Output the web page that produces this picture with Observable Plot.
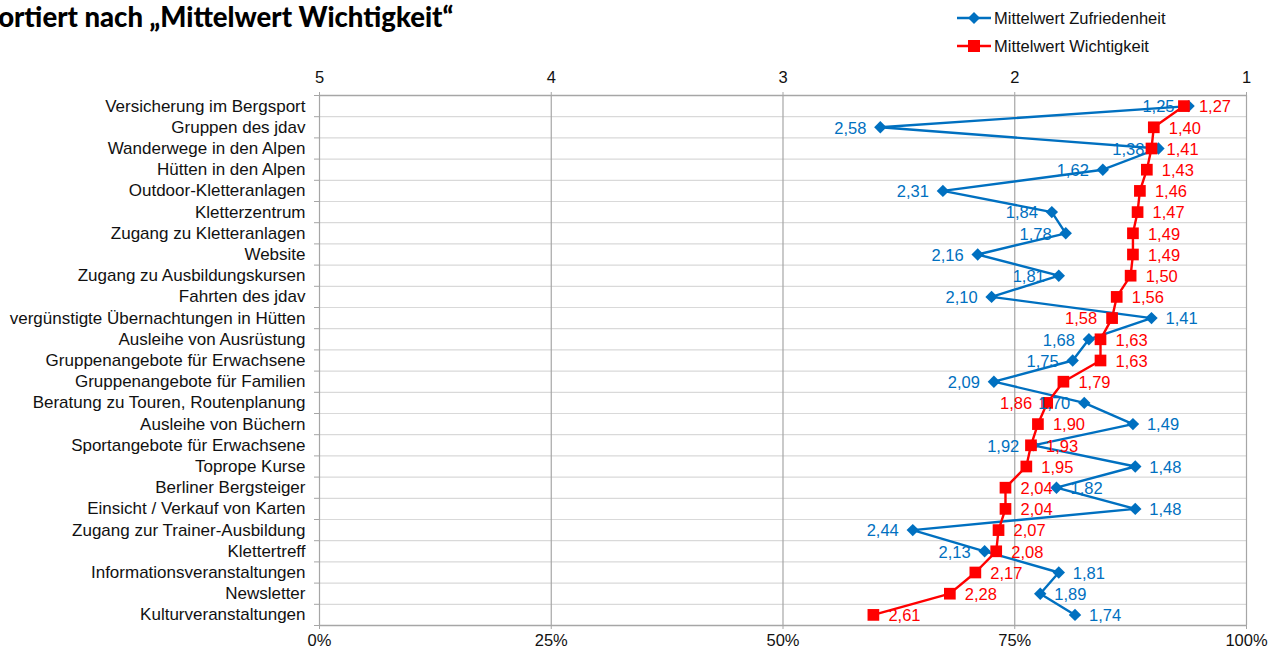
<!DOCTYPE html>
<html>
<head>
<meta charset="utf-8">
<script src="https://cdn.jsdelivr.net/npm/d3@7"></script>
<script src="https://cdn.jsdelivr.net/npm/@observablehq/plot@0.6"></script>
<style>
  html, body { margin: 0; padding: 0; background: #fff; overflow: hidden; }
  body { width: 1278px; height: 653px; position: relative; font-family: "Liberation Sans", Arial, sans-serif; }
  #chart { position: absolute; left: 0; top: 0; }
  #title { position: absolute; left: -17px; top: 0px; font-family: Lato, "Open Sans", sans-serif; font-weight: 900; font-size: 27.5px; color: #000; white-space: nowrap; }
  #legend { position: absolute; left: 956px; top: 4px; font-size: 16.5px; color: #111; }
  #legend .row { height: 28px; display: flex; align-items: center; }
  #legend svg { margin-right: 2px; }
</style>
</head>
<body>
<div id="chart"></div>
<div id="title">Sortiert nach „Mittelwert Wichtigkeit“</div>
<div id="legend"></div>
<script>
const categories = [
  "Versicherung im Bergsport",
  "Gruppen des jdav",
  "Wanderwege in den Alpen",
  "Hütten in den Alpen",
  "Outdoor-Kletteranlagen",
  "Kletterzentrum",
  "Zugang zu Kletteranlagen",
  "Website",
  "Zugang zu Ausbildungskursen",
  "Fahrten des jdav",
  "vergünstigte Übernachtungen in Hütten",
  "Ausleihe von Ausrüstung",
  "Gruppenangebote für Erwachsene",
  "Gruppenangebote für Familien",
  "Beratung zu Touren, Routenplanung",
  "Ausleihe von Büchern",
  "Sportangebote für Erwachsene",
  "Toprope Kurse",
  "Berliner Bergsteiger",
  "Einsicht / Verkauf von Karten",
  "Zugang zur Trainer-Ausbildung",
  "Klettertreff",
  "Informationsveranstaltungen",
  "Newsletter",
  "Kulturveranstaltungen"
];
const zufriedenheit = [1.25, 2.58, 1.38, 1.62, 2.31, 1.84, 1.78, 2.16, 1.81, 2.10, 1.41, 1.68, 1.75, 2.09, 1.70, 1.49, 1.92, 1.48, 1.82, 1.48, 2.44, 2.13, 1.81, 1.89, 1.74];
const wichtigkeit   = [1.27, 1.40, 1.41, 1.43, 1.46, 1.47, 1.49, 1.49, 1.50, 1.56, 1.58, 1.63, 1.63, 1.79, 1.86, 1.90, 1.93, 1.95, 2.04, 2.04, 2.07, 2.08, 2.17, 2.28, 2.61];
// label side per point (as placed in the original chart): l = left, r = right
const zufLabelSide  = ["l","l","l","l","l","l","l","l","l","l","r","l","l","l","l","r","l","r","r","r","l","l","r","r","r"];
const wichLabelSide = ["r","r","r","r","r","r","r","r","r","r","l","r","r","r","l","r","r","r","r","r","r","r","r","r","r"];
const seriesNames = ["Mittelwert Zufriedenheit", "Mittelwert Wichtigkeit"];
const topTicks = [5, 4, 3, 2, 1];
const bottomTickLabels = ["0%", "25%", "50%", "75%", "100%"];

const BLUE = "#0070C0", RED = "#FF0000";
const n = categories.length;
const fmt = v => v.toFixed(2).replace(".", ",");
const zRows = categories.map((c, i) => ({i, v: zufriedenheit[i], side: zufLabelSide[i]}));
const wRows = categories.map((c, i) => ({i, v: wichtigkeit[i], side: wichLabelSide[i]}));
const boundaries = d3.range(n + 1).map(k => k - 0.5);
const innerBounds = boundaries.slice(1, -1);
const outerBounds = [boundaries[0], boundaries[n]];

const chart = Plot.plot({
  width: 1278,
  height: 653,
  marginLeft: 319,
  marginRight: 32,
  marginTop: 95,
  marginBottom: 28,
  style: {fontFamily: "'Liberation Sans', Arial, sans-serif", fontSize: "16.5px", background: "#fff"},
  x: {domain: [5, 1], label: null},
  y: {domain: [n - 0.5, -0.5], label: null},
  marks: [
    Plot.ruleY(innerBounds, {stroke: "#d9d9d9", strokeWidth: 1.2}),
    Plot.ruleX(topTicks, {stroke: "#a6a6a6", strokeWidth: 1.2}),
    Plot.ruleY(outerBounds, {stroke: "#a6a6a6", strokeWidth: 1.4}),
    Plot.axisY({ticks: boundaries, tickFormat: () => "", tickSize: 5, stroke: "#a6a6a6", label: null}),
    Plot.axisY({ticks: d3.range(n), tickFormat: i => categories[i], tickSize: 0, tickPadding: 14, fontSize: 17, fill: "#111", label: null}),
    Plot.axisX({anchor: "top", ticks: topTicks, tickFormat: d => String(d), tickSize: 4, tickPadding: 9, fontSize: 16.5, stroke: "#a6a6a6", fill: "#111", label: null}),
    Plot.axisX({anchor: "bottom", ticks: topTicks, tickFormat: d => bottomTickLabels[topTicks.indexOf(d)], tickSize: 4, tickPadding: 5, fontSize: 16.5, stroke: "#a6a6a6", fill: "#111", label: null}),
    Plot.line(zRows, {x: "v", y: "i", stroke: BLUE, strokeWidth: 2.4}),
    Plot.dot(zRows, {x: "v", y: "i", symbol: "diamond2", r: 5.6, fill: BLUE, stroke: "none"}),
    Plot.line(wRows, {x: "v", y: "i", stroke: RED, strokeWidth: 2.4}),
    Plot.dot(wRows, {x: "v", y: "i", symbol: "square", r: 6.6, fill: RED, stroke: "none"}),
    Plot.text(zRows.filter(d => d.side === "r"), {x: "v", y: "i", text: d => fmt(d.v), textAnchor: "start", dx: 14, dy: 1, fill: BLUE, fontSize: 16.5}),
    Plot.text(zRows.filter(d => d.side === "l"), {x: "v", y: "i", text: d => fmt(d.v), textAnchor: "end", dx: -14, dy: 1, fill: BLUE, fontSize: 16.5}),
    Plot.text(wRows.filter(d => d.side === "r"), {x: "v", y: "i", text: d => fmt(d.v), textAnchor: "start", dx: 15, dy: 1, fill: RED, fontSize: 16.5}),
    Plot.text(wRows.filter(d => d.side === "l"), {x: "v", y: "i", text: d => fmt(d.v), textAnchor: "end", dx: -15, dy: 1, fill: RED, fontSize: 16.5})
  ]
});
document.getElementById("chart").appendChild(chart);

// legend
const legend = document.getElementById("legend");
const markers = [
  `<svg width="36" height="14"><line x1="1" y1="7" x2="35" y2="7" stroke="${BLUE}" stroke-width="2.4"/><path d="M18,1 L24,7 L18,13 L12,7 Z" fill="${BLUE}"/></svg>`,
  `<svg width="36" height="14"><line x1="1" y1="7" x2="35" y2="7" stroke="${RED}" stroke-width="2.4"/><rect x="12" y="1" width="12" height="12" fill="${RED}"/></svg>`
];
seriesNames.forEach((name, k) => {
  const row = document.createElement("div");
  row.className = "row";
  row.innerHTML = markers[k] + `<span>${name}</span>`;
  legend.appendChild(row);
});
</script>
</body>
</html>
